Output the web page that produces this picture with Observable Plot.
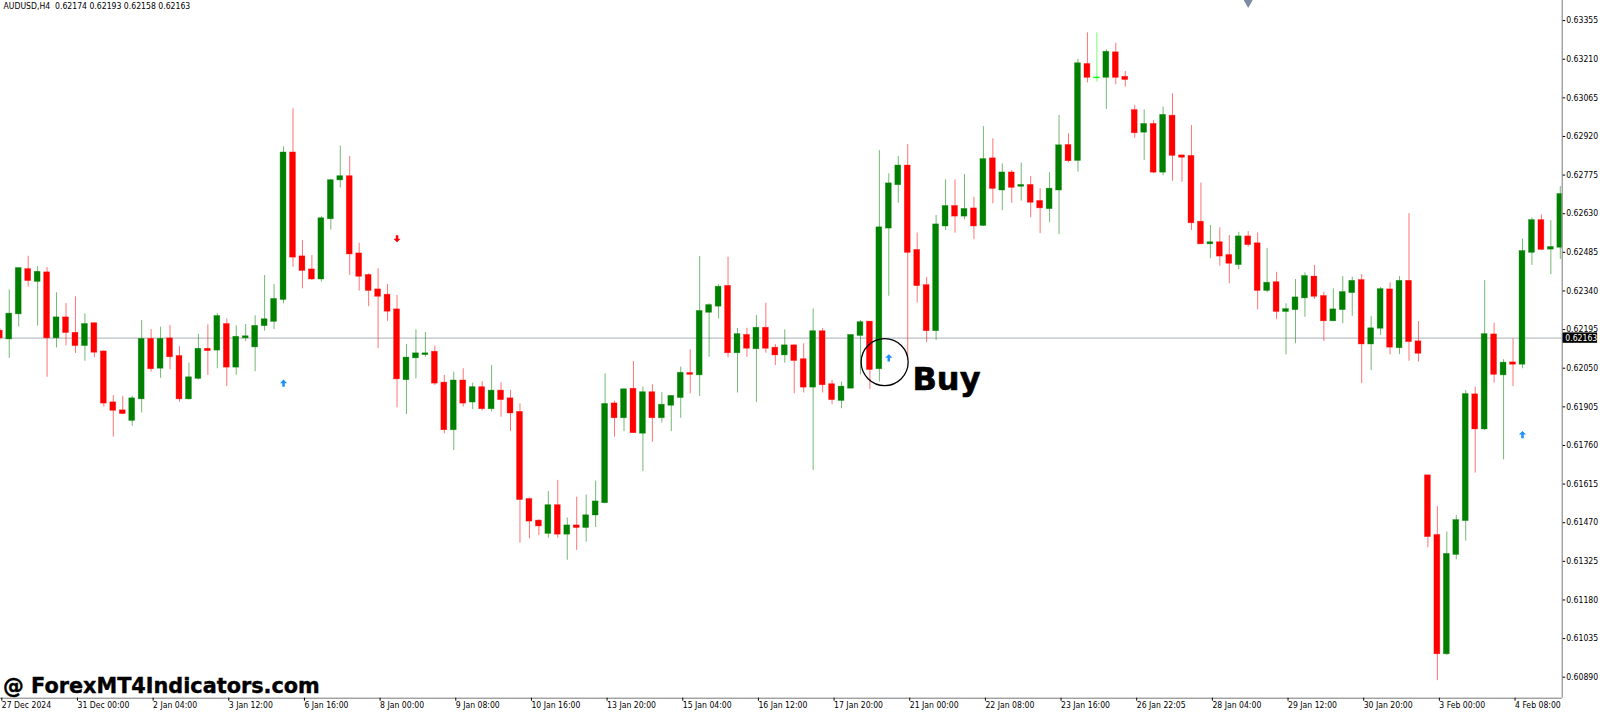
<!DOCTYPE html>
<html><head><meta charset="utf-8">
<script src="https://cdn.jsdelivr.net/npm/d3@7"></script>
<script src="https://cdn.jsdelivr.net/npm/@observablehq/plot@0.6"></script>
<style>html,body{margin:0;padding:0;background:#fff;overflow:hidden}</style>
</head><body><div id="chart"></div>
<script>
// AUDUSD H4 candles (bar index 0..165)
const opens = [
0.62189,0.62160,0.62254,0.62420,0.62376,0.62408,0.62164,0.62239,0.62181,0.62135,
0.62217,0.62111,0.61920,0.61890,0.61854,0.61935,0.62158,0.62050,0.62160,0.62094,
0.61935,0.62012,0.62121,0.62118,0.62214,0.62054,0.62164,0.62130,0.62210,0.62226,
0.62308,0.62858,0.62468,0.62419,0.62385,0.62611,0.62757,0.62769,0.62479,0.62398,
0.62344,0.62324,0.62269,0.62007,0.62089,0.62101,0.62110,0.61994,0.61819,0.62002,
0.61923,0.61977,0.61898,0.61964,0.61935,0.61884,0.61557,0.61476,0.61430,0.61534,
0.61427,0.61458,0.61452,0.61499,0.61545,0.61916,0.61864,0.61971,0.61806,0.61958,
0.61864,0.61911,0.61940,0.62030,0.62025,0.62260,0.62283,0.62357,0.62108,0.62173,
0.62123,0.62200,0.62125,0.62100,0.62134,0.62082,0.61979,0.62187,0.61988,0.61929,
0.61975,0.62173,0.62223,0.62048,0.62576,0.62739,0.62809,0.62492,0.62360,0.62191,
0.62584,0.62657,0.62621,0.62648,0.62586,0.62836,0.62719,0.62783,0.62733,0.62736,
0.62676,0.62649,0.62719,0.62886,0.62830,0.63190,0.63140,0.63142,0.63234,0.63142,
0.63017,0.62936,0.62965,0.62786,0.62996,0.62847,0.62845,0.62598,0.62517,0.62521,
0.62473,0.62439,0.62543,0.62517,0.62342,0.62371,0.62263,0.62270,0.62314,0.62392,
0.62319,0.62228,0.62270,0.62334,0.62379,0.62141,0.62200,0.62344,0.62127,0.62376,
0.62149,0.61646,0.61422,0.60978,0.61351,0.61478,0.61950,0.61822,0.62175,0.62025,
0.62070,0.62065,0.62485,0.62604,0.62497,0.62504];
const highs = [
0.62199,0.62344,0.62427,0.62470,0.62432,0.62428,0.62333,0.62293,0.62318,0.62254,
0.62220,0.62116,0.61947,0.61944,0.61945,0.62229,0.62195,0.62204,0.62210,0.62131,
0.62069,0.62177,0.62213,0.62255,0.62235,0.62209,0.62214,0.62247,0.62398,0.62364,
0.62881,0.63024,0.62529,0.62473,0.62619,0.62758,0.62884,0.62845,0.62519,0.62404,
0.62423,0.62364,0.62323,0.62139,0.62194,0.62184,0.62133,0.62023,0.62035,0.62048,
0.61994,0.62000,0.62060,0.61995,0.61966,0.61916,0.61563,0.61481,0.61587,0.61629,
0.61488,0.61566,0.61574,0.61626,0.62029,0.61926,0.61972,0.62075,0.61979,0.61988,
0.61958,0.61947,0.62054,0.62119,0.62469,0.62292,0.62364,0.62467,0.62199,0.62200,
0.62248,0.62294,0.62139,0.62194,0.62137,0.62142,0.62273,0.62199,0.62004,0.61998,
0.62173,0.62229,0.62225,0.62867,0.62780,0.62845,0.62890,0.62557,0.62391,0.62623,
0.62757,0.62757,0.62777,0.62692,0.62957,0.62911,0.62817,0.62792,0.62820,0.62770,
0.62724,0.62784,0.62999,0.62930,0.63209,0.63309,0.63309,0.63246,0.63270,0.63164,
0.63036,0.63020,0.62980,0.63030,0.63080,0.62849,0.62961,0.62745,0.62586,0.62577,
0.62548,0.62560,0.62563,0.62558,0.62500,0.62410,0.62292,0.62383,0.62408,0.62436,
0.62335,0.62348,0.62394,0.62392,0.62401,0.62244,0.62353,0.62370,0.62394,0.62630,
0.62225,0.61647,0.61531,0.61435,0.61497,0.61966,0.61979,0.62379,0.62219,0.62082,
0.62160,0.62535,0.62614,0.62626,0.62604,0.62732];
const lows = [
0.62154,0.62087,0.62204,0.62354,0.62208,0.62016,0.62126,0.62134,0.62105,0.62076,
0.62089,0.61904,0.61791,0.61876,0.61832,0.61882,0.62035,0.62012,0.62044,0.61922,
0.61931,0.62006,0.62023,0.62048,0.61981,0.62023,0.62150,0.62037,0.62189,0.62195,
0.62292,0.62429,0.62348,0.62379,0.62373,0.62569,0.62727,0.62398,0.62339,0.62281,
0.62123,0.62226,0.61901,0.61876,0.62010,0.62091,0.61985,0.61804,0.61741,0.61904,
0.61894,0.61889,0.61886,0.61866,0.61812,0.61393,0.61410,0.61422,0.61412,0.61412,
0.61329,0.61366,0.61397,0.61452,0.61541,0.61791,0.61812,0.61806,0.61662,0.61772,
0.61844,0.61812,0.61862,0.61954,0.61944,0.62091,0.62235,0.62089,0.61957,0.62091,
0.61921,0.62106,0.62060,0.62069,0.61954,0.61957,0.61666,0.61957,0.61913,0.61898,
0.61973,0.62025,0.61970,0.61998,0.62320,0.62669,0.62079,0.62294,0.62146,0.62154,
0.62567,0.62557,0.62607,0.62532,0.62582,0.62667,0.62641,0.62669,0.62677,0.62615,
0.62555,0.62596,0.62551,0.62821,0.62786,0.63121,0.63124,0.63021,0.63114,0.63105,
0.62913,0.62830,0.62780,0.62773,0.62752,0.62748,0.62567,0.62515,0.62461,0.62433,
0.62367,0.62420,0.62504,0.62269,0.62334,0.62232,0.62100,0.62142,0.62241,0.62308,
0.62150,0.62225,0.62217,0.62245,0.61992,0.62041,0.62173,0.62100,0.62101,0.62076,
0.62073,0.61376,0.60877,0.60972,0.61331,0.61401,0.61656,0.61816,0.61994,0.61706,
0.61981,0.62048,0.62436,0.62492,0.62401,0.62458];
const closes = [
0.62164,0.62253,0.62424,0.62379,0.62410,0.62164,0.62239,0.62184,0.62135,0.62214,
0.62110,0.61919,0.61892,0.61880,0.61935,0.62158,0.62048,0.62158,0.62093,0.61935,
0.62014,0.62121,0.62116,0.62244,0.62054,0.62166,0.62168,0.62207,0.62232,0.62308,
0.62858,0.62467,0.62417,0.62385,0.62611,0.62754,0.62769,0.62479,0.62395,0.62342,
0.62320,0.62264,0.62010,0.62088,0.62104,0.62104,0.61994,0.61819,0.62002,0.61919,
0.61977,0.61898,0.61964,0.61932,0.61882,0.61557,0.61476,0.61458,0.61534,0.61427,
0.61458,0.61452,0.61496,0.61548,0.61914,0.61864,0.61969,0.61808,0.61958,0.61864,
0.61911,0.61944,0.62031,0.62027,0.62263,0.62285,0.62354,0.62108,0.62176,0.62125,
0.62200,0.62125,0.62100,0.62134,0.62079,0.61979,0.62187,0.61988,0.61932,0.61979,
0.62173,0.62221,0.62045,0.62577,0.62742,0.62809,0.62485,0.62360,0.62191,0.62588,
0.62657,0.62621,0.62646,0.62584,0.62833,0.62725,0.62783,0.62729,0.62736,0.62673,
0.62652,0.62722,0.62885,0.62829,0.63193,0.63142,0.63140,0.63236,0.63142,0.63134,
0.62934,0.62965,0.62786,0.62999,0.62849,0.62842,0.62596,0.62517,0.62521,0.62471,
0.62444,0.62543,0.62514,0.62342,0.62369,0.62263,0.62270,0.62314,0.62394,0.62320,
0.62228,0.62269,0.62334,0.62376,0.62141,0.62198,0.62345,0.62129,0.62376,0.62150,
0.62106,0.61418,0.60978,0.61351,0.61478,0.61951,0.61822,0.62176,0.62027,0.62069,
0.62065,0.62488,0.62604,0.62496,0.62503,0.62702];

const tickLabels = ["27 Dec 2024","31 Dec 00:00","2 Jan 04:00","3 Jan 12:00","6 Jan 16:00",
"8 Jan 00:00","9 Jan 08:00","10 Jan 16:00","13 Jan 20:00","15 Jan 04:00","16 Jan 12:00",
"17 Jan 20:00","21 Jan 00:00","22 Jan 08:00","23 Jan 16:00","26 Jan 22:05","28 Jan 04:00",
"29 Jan 12:00","30 Jan 20:00","3 Feb 00:00","4 Feb 08:00"];
const tickBars = [0,8,16,24,32,40,48,56,64,72,80,88,96,104,112,120,128,136,144,152,160];
const yTicks = [0.63355,0.63210,0.63065,0.62920,0.62775,0.62630,0.62485,0.62340,0.62195,
0.62050,0.61905,0.61760,0.61615,0.61470,0.61325,0.61180,0.61035,0.60890];

const upArrowBars = [30, 94, 161];
const upArrowPrices = [0.61994, 0.62089, 0.61801];
const downArrowBars = [42];
const downArrowPrices = [0.62536];

const header = "AUDUSD,H4\u00a0\u00a00.62174 0.62193 0.62158 0.62163";
const bidPrice = 0.62163;
const signalBar = 93.56, signalPrice = 0.62073;
const buyBar = 96.5, buyPrice = 0.61969;
const markerBar = 132;

const bars = opens.map((o, i) => ({i, open: o, high: highs[i], low: lows[i], close: closes[i]}));
const col = d => d.close > d.open ? "#008000" : d.close < d.open ? "#ff0000" : "#00ff00";
const ups = upArrowBars.map((b, k) => ({b, p: upArrowPrices[k]}));
const downs = downArrowBars.map((b, k) => ({b, p: downArrowPrices[k]}));
const labelOf = new Map(tickBars.map((b, k) => [b, tickLabels[k]]));

function arrow(dir) {
  return {draw(ctx, size) {
    const r = Math.sqrt(size / Math.PI), s = dir;
    ctx.moveTo(0, -r * s); ctx.lineTo(r, 0); ctx.lineTo(r * 0.35, 0);
    ctx.lineTo(r * 0.35, r * s); ctx.lineTo(-r * 0.35, r * s); ctx.lineTo(-r * 0.35, 0);
    ctx.lineTo(-r, 0); ctx.closePath();
  }};
}

const W = 1600, H = 713, mR = 38.3, mB = 15.3;
const xDomain = [0.074, 165.2], yDomain = [0.608112, 0.634304];

const chart = Plot.plot({
  width: W, height: H, marginLeft: 0, marginRight: mR, marginTop: 0, marginBottom: mB,
  style: {fontFamily: "'DejaVu Sans Condensed','Liberation Sans',sans-serif", fontSize: "8.6px", color: "#000", background: "#fff", overflow: "visible"},
  x: {type: "linear", domain: xDomain, axis: null},
  y: {type: "linear", domain: yDomain, axis: null},
  marks: [
    Plot.ruleY([bidPrice], {stroke: "#a9b0b8", strokeWidth: 1}),
    Plot.ruleX(bars, {x: "i", y1: "low", y2: "high", stroke: col, strokeOpacity: 0.55, strokeWidth: 1, clip: true}),
    Plot.rect(bars, {x1: d => d.i - 0.31, x2: d => d.i + 0.31, y1: "open", y2: "close", fill: col, stroke: col, strokeOpacity: 0.5, strokeWidth: 0.7, insetTop: -0.5, insetBottom: -0.5, clip: true}),
    Plot.dot(ups, {x: "b", y: "p", symbol: arrow(1), r: 3.6, fill: "#1e90ff", stroke: "none"}),
    Plot.dot(downs, {x: "b", y: "p", symbol: arrow(-1), r: 3.6, fill: "#ff0000", stroke: "none"}),
    Plot.dot([0], {x: signalBar, y: signalPrice, r: 23.5, stroke: "#000", strokeWidth: 1.3, fill: "none"}),
    Plot.text(["Buy"], {x: buyBar, y: buyPrice, text: d => d, textAnchor: "start", lineAnchor: "bottom", fontSize: 32, fontWeight: "bold", fontFamily: "DejaVu Sans", fill: "#000", stroke: "#000", strokeWidth: 0.6}),
    Plot.text([header], {frameAnchor: "top-left", text: d => d, dx: 3, dy: 2.5, lineAnchor: "top", textAnchor: "start", fontSize: 8.6, fill: "#000"}),
    Plot.text(["@ ForexMT4Indicators.com"], {frameAnchor: "bottom-left", text: d => d, dx: 2.5, dy: -5, lineAnchor: "bottom", textAnchor: "start", fontSize: 20.8, fontWeight: "bold", fontFamily: "DejaVu Sans", fill: "#000", stroke: "#000", strokeWidth: 0.4}),
    Plot.dot([markerBar], {x: d => d, y: yDomain[1], symbol: "diamond", r: 4.5, fill: "#7d8ca3", stroke: "none", clip: true}),
    Plot.ruleX([xDomain[1]], {stroke: "#777", strokeWidth: 1}),
    Plot.ruleY([yDomain[0]], {stroke: "#777", strokeWidth: 1}),
    Plot.axisX(tickBars, {anchor: "bottom", tickSize: 3, tickPadding: 1, textAnchor: "start", dx: 2, tickFormat: d => labelOf.get(d), fontSize: 8.6}),
    Plot.axisY(yTicks, {anchor: "right", tickSize: 2.5, tickPadding: 1.5, tickFormat: d => d.toFixed(5), fontSize: 8.6})
  ]
});

const svg = d3.select(chart);
const yy = chart.scale("y").apply(bidPrice);
svg.append("rect").attr("x", W - mR + 0.9).attr("y", yy - 5.2).attr("width", 34.5).attr("height", 10.4).attr("fill", "#000");
svg.append("text").attr("x", W - mR + 3.6).attr("y", yy).attr("dy", "0.35em")
  .attr("text-anchor", "start").attr("fill", "#fff").attr("font-size", "8.6px").text(bidPrice.toFixed(5));

document.getElementById("chart").appendChild(chart);
</script>
</body></html>
